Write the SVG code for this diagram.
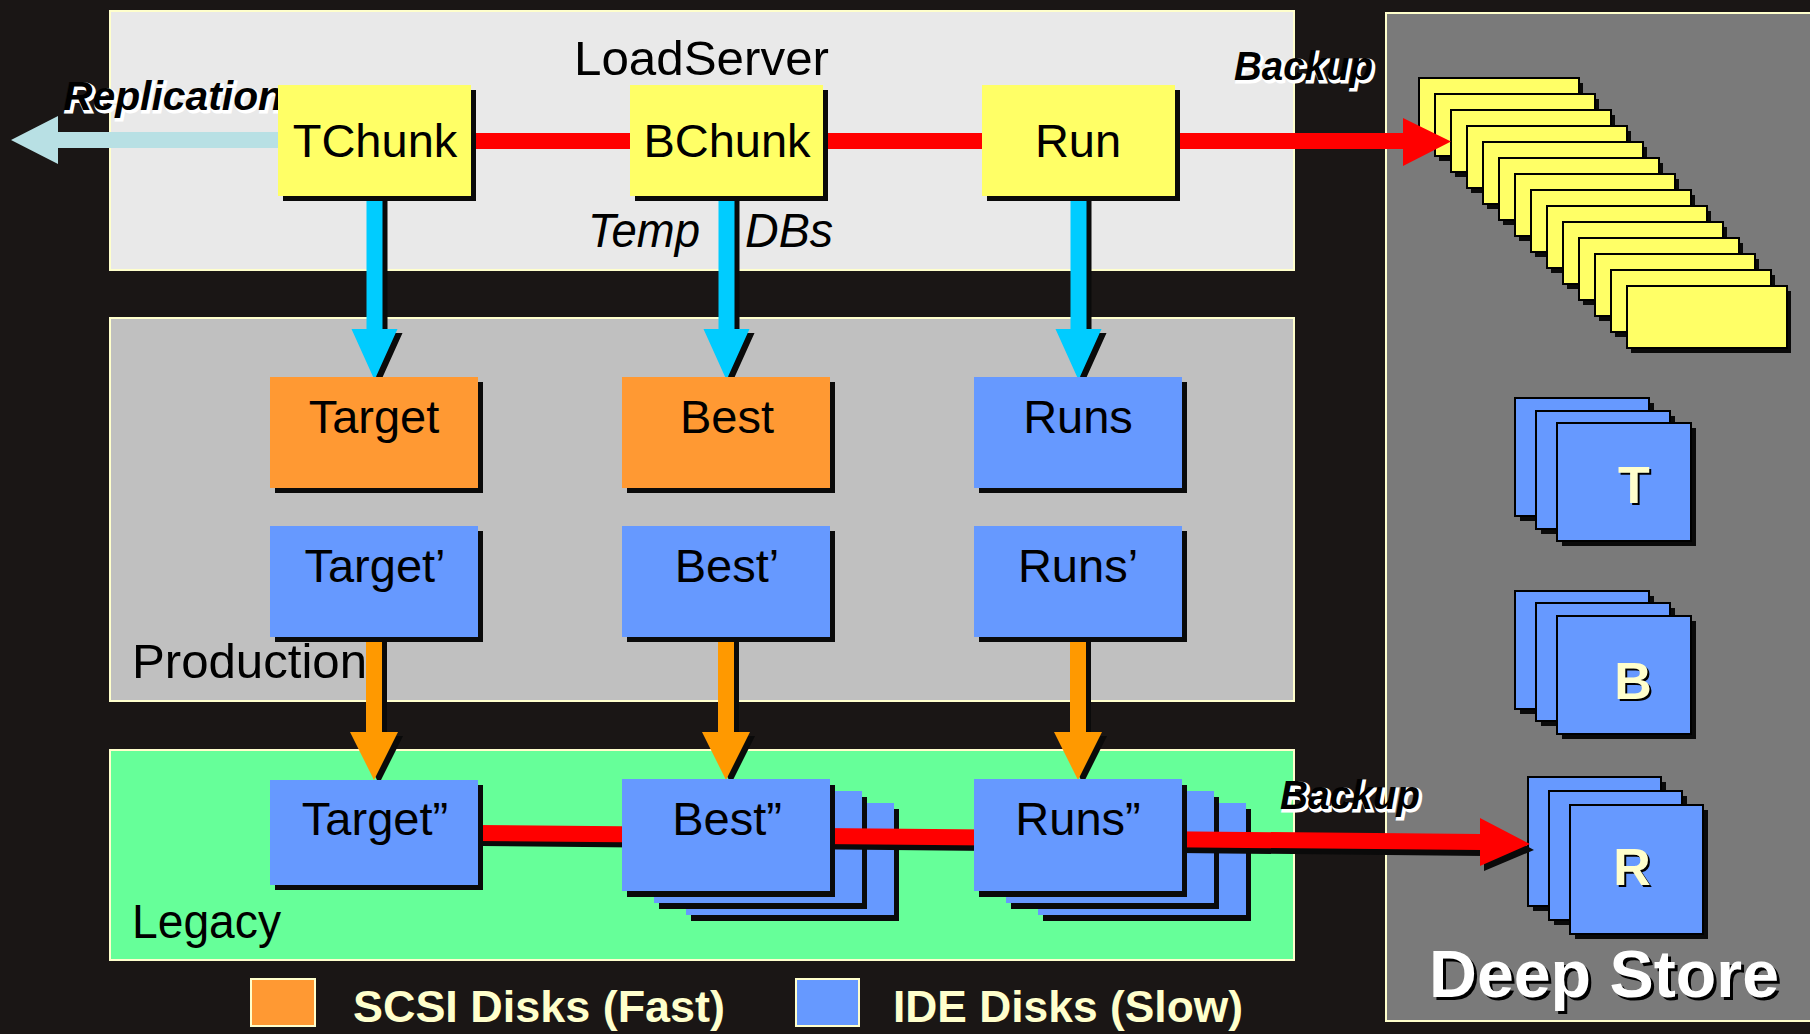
<svg xmlns="http://www.w3.org/2000/svg" xmlns:xlink="http://www.w3.org/1999/xlink" width="1810" height="1034" viewBox="0 0 1810 1034">
<defs>
<style>
.t{font-family:"Liberation Sans",Arial,sans-serif;fill:#000}
.lbl{font-size:47px;text-anchor:middle}
.ttl{font-size:48px}
.it{font-style:italic}
.bi{font-weight:bold;font-style:italic;font-size:40px}
.wsh{fill:#fff;stroke:#fff;stroke-width:3}
.sh{fill:#0a0a0a}
.yel{fill:#ffff66}
.org{fill:#ff9933}
.blu{fill:#6699ff}
.panel{stroke:#ffffcc;stroke-width:2}
.dsk{stroke:#000;stroke-width:2}
.leg{font-weight:bold;font-size:44px;fill:#ffffcc}
.let{font-weight:bold;font-size:52px;text-anchor:middle}
</style>
<g id="ybox">
<rect x="5" y="6" width="160" height="62" class="sh"/>
<rect x="1" y="1" width="160" height="62" class="yel dsk"/>
</g>
<g id="bbox">
<rect x="6" y="6" width="134" height="118" class="sh"/>
<rect x="1" y="1" width="134" height="118" class="blu dsk"/>
</g>
<g id="rbox">
<rect x="6" y="6" width="133" height="129" class="sh"/>
<rect x="1" y="1" width="133" height="129" class="blu dsk"/>
</g>
<g id="lbox">
<rect x="5" y="6" width="208" height="112" class="sh"/>
<rect x="0" y="0" width="208" height="112" class="blu"/>
</g>
<polygon id="varrow" points="-8,0 8,0 8,133 23,133 0,184 -23,133 -8,133"/>
<polygon id="oarrow" points="-8,0 8,0 8,95 24,95 0,143 -24,95 -8,95"/>
</defs>

<rect x="0" y="0" width="1810" height="1034" fill="#1a1615"/>

<g id="panels">
<rect id="loadserver-panel" x="110" y="11" width="1184" height="259" fill="#e9e9e9" class="panel"/>
<rect id="production-panel" x="110" y="318" width="1184" height="383" fill="#c0c0c0" class="panel"/>
<rect id="legacy-panel" x="110" y="750" width="1184" height="210" fill="#66ff99" class="panel"/>
<rect id="deepstore-panel" x="1386" y="13" width="440" height="1008" fill="#7a7a7a" class="panel"/>
</g>

<g id="panel-labels">
<text x="574" y="75" class="t ttl" textLength="255" lengthAdjust="spacingAndGlyphs">LoadServer</text>
<text x="588" y="247" class="t ttl it" textLength="112" lengthAdjust="spacingAndGlyphs">Temp</text>
<text x="745" y="247" class="t ttl it" textLength="88" lengthAdjust="spacingAndGlyphs">DBs</text>
<text x="132" y="678" class="t ttl" textLength="235" lengthAdjust="spacingAndGlyphs">Production</text>
<text x="132" y="938" class="t ttl" textLength="149" lengthAdjust="spacingAndGlyphs">Legacy</text>
</g>

<g id="deep-store">
<g id="tape-stack">
<use xlink:href="#ybox" x="1418" y="77"/>
<use xlink:href="#ybox" x="1434" y="93"/>
<use xlink:href="#ybox" x="1450" y="109"/>
<use xlink:href="#ybox" x="1466" y="125"/>
<use xlink:href="#ybox" x="1482" y="141"/>
<use xlink:href="#ybox" x="1498" y="157"/>
<use xlink:href="#ybox" x="1514" y="173"/>
<use xlink:href="#ybox" x="1530" y="189"/>
<use xlink:href="#ybox" x="1546" y="205"/>
<use xlink:href="#ybox" x="1562" y="221"/>
<use xlink:href="#ybox" x="1578" y="237"/>
<use xlink:href="#ybox" x="1594" y="253"/>
<use xlink:href="#ybox" x="1610" y="269"/>
<use xlink:href="#ybox" x="1626" y="285"/>
</g>
<g id="store-t">
<use xlink:href="#bbox" x="1514" y="397"/>
<use xlink:href="#bbox" x="1535" y="410"/>
<use xlink:href="#bbox" x="1556" y="422"/>
<text x="1636" y="505" class="t let">T</text>
<text x="1634" y="503" class="t let" fill="#ffffcc" style="fill:#ffffcc">T</text>
</g>
<g id="store-b">
<use xlink:href="#bbox" x="1514" y="590"/>
<use xlink:href="#bbox" x="1535" y="602"/>
<use xlink:href="#bbox" x="1556" y="615"/>
<text x="1635" y="701" class="t let">B</text>
<text x="1633" y="699" class="t let" style="fill:#ffffcc">B</text>
</g>
<g id="store-r">
<use xlink:href="#rbox" x="1527" y="776"/>
<use xlink:href="#rbox" x="1548" y="790"/>
<use xlink:href="#rbox" x="1569" y="804"/>
<text x="1634" y="887" class="t let">R</text>
<text x="1632" y="885" class="t let" style="fill:#ffffcc">R</text>
</g>
<text x="1432" y="1000" class="t" style="font-weight:bold;font-size:66px" textLength="350" lengthAdjust="spacingAndGlyphs">Deep Store</text>
<text x="1429" y="997" class="t" style="font-weight:bold;font-size:66px;fill:#fff" textLength="350" lengthAdjust="spacingAndGlyphs">Deep Store</text>
</g>

<g id="legacy-stacks">
<use xlink:href="#lbox" x="686" y="803"/>
<use xlink:href="#lbox" x="654" y="791"/>
<use xlink:href="#lbox" x="1038" y="803"/>
<use xlink:href="#lbox" x="1006" y="791"/>
</g>

<g id="connectors">
<polygon id="replication" points="278,132 58,132 58,116 11,140 58,164 58,148 278,148" fill="#b8e0e4"/>
<polygon id="backup-top" points="471,133 1403,133 1403,118 1451,141.5 1403,166 1403,149 471,149" fill="#ff0000"/>
<g id="down-cyan">
<use xlink:href="#varrow" x="379.5" y="200" class="sh"/>
<use xlink:href="#varrow" x="731.5" y="200" class="sh"/>
<use xlink:href="#varrow" x="1083.5" y="200" class="sh"/>
<use xlink:href="#varrow" x="374.5" y="196" fill="#00ccff"/>
<use xlink:href="#varrow" x="726.5" y="196" fill="#00ccff"/>
<use xlink:href="#varrow" x="1078.5" y="196" fill="#00ccff"/>
</g>
<g id="down-orange">
<use xlink:href="#oarrow" x="379" y="641" class="sh"/>
<use xlink:href="#oarrow" x="731" y="641" class="sh"/>
<use xlink:href="#oarrow" x="1083" y="641" class="sh"/>
<use xlink:href="#oarrow" x="374" y="637" fill="#ff9900"/>
<use xlink:href="#oarrow" x="726" y="637" fill="#ff9900"/>
<use xlink:href="#oarrow" x="1078" y="637" fill="#ff9900"/>
</g>
<g id="backup-legacy">
<polygon points="482,830 1484,840 1484,823 1534,850 1484,871 1484,856 482,846" class="sh"/>
<polygon points="478,825 1480,834 1480,818 1530,844 1480,866 1480,850 478,841" fill="#ff0000"/>
</g>
<g id="connector-labels">
<text x="65" y="112" class="t bi wsh" textLength="220" lengthAdjust="spacingAndGlyphs">Replication</text>
<text x="63" y="110" class="t bi" textLength="220" lengthAdjust="spacingAndGlyphs">Replication</text>
<text x="1236" y="82" class="t bi wsh" textLength="139" lengthAdjust="spacingAndGlyphs">Backup</text>
<text x="1234" y="80" class="t bi" textLength="139" lengthAdjust="spacingAndGlyphs">Backup</text>
<text x="1282" y="811" class="t bi wsh" textLength="140" lengthAdjust="spacingAndGlyphs">Backup</text>
<text x="1280" y="809" class="t bi" textLength="140" lengthAdjust="spacingAndGlyphs">Backup</text>
</g>
</g>

<g id="tchunk">
<rect x="283" y="90" width="193" height="111" class="sh"/>
<rect x="278" y="85" width="193" height="111" class="yel"/>
<text x="375" y="157" class="t lbl">TChunk</text>
</g>
<g id="bchunk">
<rect x="635" y="90" width="193" height="111" class="sh"/>
<rect x="630" y="85" width="193" height="111" class="yel"/>
<text x="727" y="157" class="t lbl">BChunk</text>
</g>
<g id="run">
<rect x="987" y="90" width="193" height="111" class="sh"/>
<rect x="982" y="85" width="193" height="111" class="yel"/>
<text x="1078" y="157" class="t lbl">Run</text>
</g>

<g id="target">
<rect x="275" y="382" width="208" height="111" class="sh"/>
<rect x="270" y="377" width="208" height="111" class="org"/>
<text x="374" y="433" class="t lbl">Target</text>
</g>
<g id="best">
<rect x="627" y="382" width="208" height="111" class="sh"/>
<rect x="622" y="377" width="208" height="111" class="org"/>
<text x="727" y="433" class="t lbl">Best</text>
</g>
<g id="runs">
<rect x="979" y="382" width="208" height="111" class="sh"/>
<rect x="974" y="377" width="208" height="111" class="blu"/>
<text x="1078" y="433" class="t lbl">Runs</text>
</g>

<g id="target1">
<rect x="275" y="531" width="208" height="111" class="sh"/>
<rect x="270" y="526" width="208" height="111" class="blu"/>
<text x="375" y="582" class="t lbl">Target’</text>
</g>
<g id="best1">
<rect x="627" y="531" width="208" height="111" class="sh"/>
<rect x="622" y="526" width="208" height="111" class="blu"/>
<text x="727" y="582" class="t lbl">Best’</text>
</g>
<g id="runs1">
<rect x="979" y="531" width="208" height="111" class="sh"/>
<rect x="974" y="526" width="208" height="111" class="blu"/>
<text x="1078" y="582" class="t lbl">Runs’</text>
</g>

<g id="target2">
<rect x="275" y="785" width="208" height="105" class="sh"/>
<rect x="270" y="780" width="208" height="105" class="blu"/>
<text x="375" y="835" class="t lbl">Target”</text>
</g>
<g id="best2">
<use xlink:href="#lbox" x="622" y="779"/>
<text x="727" y="835" class="t lbl">Best”</text>
</g>
<g id="runs2">
<use xlink:href="#lbox" x="974" y="779"/>
<text x="1078" y="835" class="t lbl">Runs”</text>
</g>

<g id="legend">
<rect x="251" y="979" width="64" height="47" fill="#ff9933" stroke="#ffffcc" stroke-width="2"/>
<text x="353" y="1022" class="t leg" textLength="372" lengthAdjust="spacingAndGlyphs">SCSI Disks (Fast)</text>
<rect x="796" y="979" width="63" height="47" fill="#6699ff" stroke="#ffffcc" stroke-width="2"/>
<text x="893" y="1022" class="t leg" textLength="350" lengthAdjust="spacingAndGlyphs">IDE Disks (Slow)</text>
</g>
</svg>
